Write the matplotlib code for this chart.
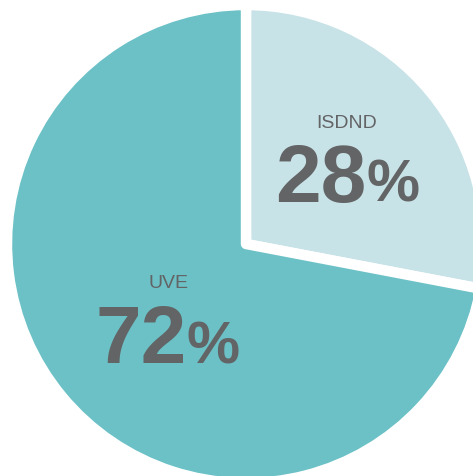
import matplotlib.pyplot as plt
import numpy as np

# données du graphique
categories = ["ISDND", "UVE"]
shares = [28, 72]
colors = ["#c8e3e7", "#6bc1c6"]
text_color = "#636466"

W, H = 473, 477
fig = plt.figure(figsize=(W / 100, H / 100), dpi=100)
ax = fig.add_axes([0, 0, 1, 1])

# centre et rayon du camembert en pixels
cx, cy, r = 246, 245, 239
ax.pie(shares, colors=colors, startangle=90, counterclock=False,
       radius=1, center=(0, 0),
       wedgeprops=dict(edgecolor="white", linewidth=7.5, joinstyle="round"))
ax.set_aspect("auto")
ax.set_xlim(-cx / r, (W - cx) / r)
ax.set_ylim(-(H - cy) / r, cy / r)
ax.axis("off")

font = ["Liberation Sans", "DejaVu Sans"]

def px(x, y):
    return x / W, 1 - y / H

# positions des étiquettes (pixels)
label_pos = {"ISDND": (347, 128, 202, 366), "UVE": (168, 288, 363, 187)}
for name, val in zip(categories, shares):
    xc, ytitle, ybase, xsplit = label_pos[name]
    fig.text(*px(xc, ytitle), name, ha="center", va="baseline", fontsize=14,
             family=font, color=text_color)
    fig.text(*px(xsplit, ybase), str(val), ha="right", va="baseline", fontsize=59,
             fontweight="bold", family=font, color=text_color)
    fig.text(*px(xsplit, ybase), "%", ha="left", va="baseline", fontsize=43,
             fontweight="bold", family=font, color=text_color)

fig.savefig("out.png", dpi=100)
